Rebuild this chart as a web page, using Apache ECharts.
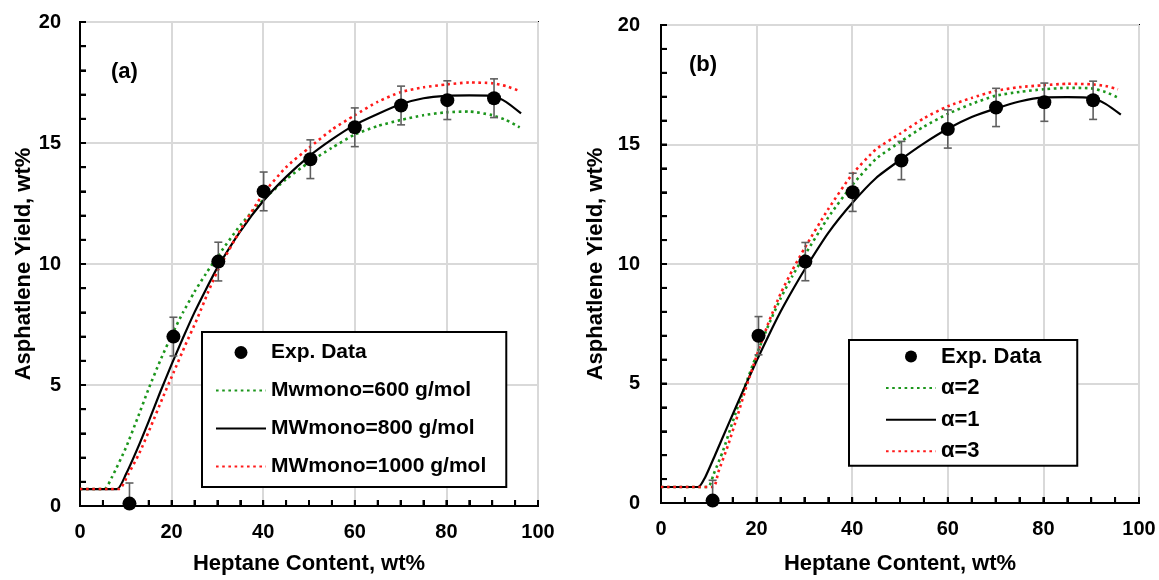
<!DOCTYPE html>
<html>
<head>
<meta charset="utf-8">
<script src="https://cdn.jsdelivr.net/npm/echarts@6/dist/echarts.min.js"></script>
<style>html,body{margin:0;padding:0;background:#fff;}#c{width:1159px;height:580px;}</style>
</head>
<body>
<div id="c"></div>
<script>
// ---- data ----
var expX = [10.8, 20.4, 30.2, 40.1, 50.3, 60.0, 70.1, 80.2, 90.4];
var expY = [0.1, 7.0, 10.1, 13.0, 14.33, 15.65, 16.55, 16.77, 16.85];
var expErr = [0.85, 0.8, 0.8, 0.8, 0.8, 0.8, 0.8, 0.8, 0.8];

// panel (a)
var aX600 = [0, 5.3, 7, 10, 12.5, 15, 17.5, 20, 22.5, 25, 27.5, 30, 35, 40, 45, 50, 55, 60, 65, 70, 75, 80, 85, 90, 93, 96];
var aY600 = [0.7, 0.7, 1.2, 2.4, 3.6, 4.85, 6.0, 7.05, 8.0, 8.85, 9.6, 10.3, 11.6, 12.65, 13.5, 14.2, 14.8, 15.35, 15.7, 15.95, 16.15, 16.27, 16.3, 16.15, 15.95, 15.65];
var aX800 = [0, 8.1, 10, 12.5, 15, 17.5, 20, 22.5, 25, 27.5, 30, 35, 40, 45, 50, 55, 60, 65, 70, 75, 80, 85, 90, 93, 96.3];
var aY800 = [0.7, 0.7, 1.3, 2.35, 3.5, 4.7, 5.85, 6.95, 8.0, 8.95, 9.85, 11.35, 12.6, 13.6, 14.45, 15.15, 15.75, 16.2, 16.6, 16.85, 16.95, 16.97, 16.95, 16.7, 16.22];
var aX1000 = [0, 8.5, 10.5, 13, 15.5, 18, 20.5, 23, 25.5, 28, 30, 35, 40, 45, 50, 55, 60, 65, 70, 75, 80, 85, 90, 93, 96];
var aY1000 = [0.7, 0.7, 1.3, 2.2, 3.3, 4.45, 5.55, 6.65, 7.7, 8.85, 9.7, 11.4, 12.9, 14.0, 14.8, 15.55, 16.15, 16.7, 17.1, 17.3, 17.42, 17.5, 17.47, 17.35, 17.15];

// panel (b)
var bX1 = [0, 7.8, 9.2, 11.3, 14, 17.5, 20, 22.5, 25, 27.5, 30, 35, 40, 45, 50, 55, 60, 65, 70, 75, 80, 85, 90, 93, 96.2];
var bY1 = [0.67, 0.67, 1.06, 2.0, 3.25, 4.85, 5.95, 7.0, 8.0, 8.9, 9.75, 11.3, 12.55, 13.6, 14.35, 15.05, 15.66, 16.15, 16.5, 16.8, 16.97, 16.98, 16.95, 16.7, 16.25];
var bX2 = [0, 9.8, 11, 13, 15, 17.5, 20, 22.5, 25, 27.5, 30, 35, 40, 45, 50, 55, 60, 65, 70, 75, 80, 85, 90, 93, 95.6];
var bY2 = [0.67, 0.67, 1.2, 2.2, 3.4, 4.85, 6.2, 7.45, 8.55, 9.5, 10.35, 11.95, 13.3, 14.4, 15.1, 15.75, 16.28, 16.7, 17.04, 17.2, 17.31, 17.37, 17.35, 17.2, 16.96];
var bX3 = [0, 10.9, 12, 14, 16, 18, 20, 22.5, 25, 27.5, 30, 35, 40, 45, 50, 55, 60, 65, 70, 75, 80, 85, 90, 93, 95.6];
var bY3 = [0.67, 0.67, 1.3, 2.4, 3.65, 4.95, 6.15, 7.55, 8.75, 9.75, 10.65, 12.3, 13.75, 14.8, 15.45, 16.1, 16.6, 16.95, 17.24, 17.4, 17.48, 17.54, 17.52, 17.45, 17.31];

var xTicks = [0, 20, 40, 60, 80, 100];
var yTicks = [0, 5, 10, 15, 20];
var xMinorTicks = [0, 5, 10, 15, 20, 25, 30, 35, 40, 45, 50, 55, 60, 65, 70, 75, 80, 85, 90, 95, 100];
var yMinorTicks = [0, 1, 2, 3, 4, 5, 6, 7, 8, 9, 10, 11, 12, 13, 14, 15, 16, 17, 18, 19, 20];

// ---- helpers ----
function zip(xs, ys) { return xs.map(function (x, i) { return [x, ys[i]]; }); }
var FONT = 'Liberation Sans, Arial, sans-serif';
var GREEN = '#1c961c', RED = '#ff1a1a';

function xAxisCfg(gi, gap) {
  return {
    type: 'value', gridIndex: gi, min: xTicks[0], max: xTicks[xTicks.length - 1], interval: 20,
    name: 'Heptane Content, wt%', nameLocation: 'middle', nameGap: gap,
    nameTextStyle: { fontFamily: FONT, fontWeight: 'bold', fontSize: 22, color: '#000' },
    axisLine: { show: true, lineStyle: { color: '#000', width: 2 } },
    axisTick: { show: true, inside: true, length: 6, lineStyle: { color: '#000', width: 2 } },
    minorTick: { show: true, splitNumber: 4, length: 6, lineStyle: { color: '#000', width: 2 } },
    axisLabel: { show: true, margin: 16, fontFamily: FONT, fontWeight: 'bold', fontSize: 20, color: '#000' },
    splitLine: { show: true, lineStyle: { color: '#d9d9d9', width: 2 } }
  };
}
function yAxisCfg(gi, gap, margin) {
  return {
    type: 'value', gridIndex: gi, min: yTicks[0], max: yTicks[yTicks.length - 1], interval: 5,
    name: 'Asphatlene Yield, wt%', nameLocation: 'middle', nameGap: gap,
    nameTextStyle: { fontFamily: FONT, fontWeight: 'bold', fontSize: 22, color: '#000' },
    axisLine: { show: true, lineStyle: { color: '#000', width: 2 } },
    axisTick: { show: true, inside: true, length: 6, lineStyle: { color: '#000', width: 2 } },
    minorTick: { show: true, splitNumber: 5, length: 6, lineStyle: { color: '#000', width: 2 } },
    axisLabel: { show: true, margin: margin, fontFamily: FONT, fontWeight: 'bold', fontSize: 20, color: '#000' },
    splitLine: { show: true, lineStyle: { color: '#d9d9d9', width: 2 } }
  };
}
function lineSeries(name, gi, xs, ys, color, dotted) {
  return {
    name: name, type: 'line', xAxisIndex: gi, yAxisIndex: gi, data: zip(xs, ys),
    symbol: 'none', showSymbol: false, smooth: 0.2,
    lineStyle: { color: color, width: dotted ? 2.6 : 2.2, type: dotted ? [2.6, 3.6] : 'solid' },
    itemStyle: { color: color }, z: 3
  };
}
function scatterSeries(gi) {
  return {
    name: 'Exp. Data', type: 'scatter', xAxisIndex: gi, yAxisIndex: gi, data: zip(expX, expY),
    symbol: 'circle', symbolSize: 14, itemStyle: { color: '#000', opacity: 1 }, z: 6
  };
}
function errSeries(gi) {
  return {
    name: 'err' + gi, type: 'custom', xAxisIndex: gi, yAxisIndex: gi, clip: true, z: 5,
    encode: { x: 0, y: 1 },
    data: expX.map(function (x, i) { return [x, expY[i], expErr[i]]; }),
    renderItem: function (params, api) {
      var x = api.value(0), y = api.value(1), e = api.value(2);
      var t = api.coord([x, y + e]), b = api.coord([x, y - e]);
      var hw = 4, st = { stroke: '#5f5f5f', lineWidth: 1.6 };
      return { type: 'group', children: [
        { type: 'line', shape: { x1: t[0], y1: t[1], x2: b[0], y2: b[1] }, style: st },
        { type: 'line', shape: { x1: t[0] - hw, y1: t[1], x2: t[0] + hw, y2: t[1] }, style: st },
        { type: 'line', shape: { x1: b[0] - hw, y1: b[1], x2: b[0] + hw, y2: b[1] }, style: st }
      ] };
    }
  };
}
function lineItem(name) { return { name: name, itemStyle: { opacity: 0 } }; }

var chart = echarts.init(document.getElementById('c'), null, { renderer: 'canvas' });
chart.setOption({
  animation: false,
  backgroundColor: '#fff',
  title: [
    { text: '(a)', left: 106, top: 56, textStyle: { fontFamily: FONT, fontWeight: 'bold', fontSize: 22, color: '#000' } },
    { text: '(b)', left: 684, top: 49, textStyle: { fontFamily: FONT, fontWeight: 'bold', fontSize: 22, color: '#000' } }
  ],
  grid: [
    { left: 80, top: 22, width: 458, height: 487, show: true, borderColor: '#000', borderWidth: 2 },
    { left: 661, top: 25, width: 478, height: 484, show: true, borderColor: '#000', borderWidth: 2 }
  ],
  xAxis: [xAxisCfg(0, 47), xAxisCfg(1, 50)],
  yAxis: [yAxisCfg(0, 44, 19), yAxisCfg(1, 54, 21)],
  legend: [
    {
      orient: 'vertical', left: 202, top: 332, padding: [9, 20, 9, 13], itemGap: 15,
      itemWidth: 50, itemHeight: 13, borderColor: '#000', borderWidth: 2, backgroundColor: '#fff',
      textStyle: { fontFamily: FONT, fontWeight: 'bold', fontSize: 21, lineHeight: 23, color: '#000' },
      data: ['Exp. Data', lineItem('Mwmono=600 g/mol'), lineItem('MWmono=800 g/mol'), lineItem('MWmono=1000 g/mol')], selectedMode: false
    },
    {
      orient: 'vertical', left: 849, top: 340, padding: [5, 36, 3, 36], itemGap: 8.6,
      itemWidth: 50, itemHeight: 12, borderColor: '#000', borderWidth: 2, backgroundColor: '#fff',
      textStyle: { fontFamily: FONT, fontWeight: 'bold', fontSize: 22, lineHeight: 23, color: '#000' },
      data: ['Exp. Data', lineItem('α=2'), lineItem('α=1'), lineItem('α=3')], selectedMode: false
    }
  ],
  series: [
    lineSeries('Mwmono=600 g/mol', 0, aX600, aY600, GREEN, true),
    lineSeries('MWmono=800 g/mol', 0, aX800, aY800, '#000', false),
    lineSeries('MWmono=1000 g/mol', 0, aX1000, aY1000, RED, true),
    errSeries(0),
    scatterSeries(0),
    lineSeries('α=2', 1, bX2, bY2, GREEN, true),
    lineSeries('α=1', 1, bX1, bY1, '#000', false),
    lineSeries('α=3', 1, bX3, bY3, RED, true),
    errSeries(1),
    scatterSeries(1)
  ]
});

// inward tick marks, positioned through each grid's own scales
var tickGraphics = [];
[0, 1].forEach(function (gi) {
  xMinorTicks.forEach(function (v) {
    var p = chart.convertToPixel({ gridIndex: gi }, [v, yTicks[0]]);
    tickGraphics.push({ type: 'line', z: 100, silent: true,
      shape: { x1: p[0], y1: p[1], x2: p[0], y2: p[1] - 6 }, style: { stroke: '#000', lineWidth: 2 } });
  });
  yMinorTicks.forEach(function (v) {
    var p = chart.convertToPixel({ gridIndex: gi }, [xTicks[0], v]);
    tickGraphics.push({ type: 'line', z: 100, silent: true,
      shape: { x1: p[0], y1: p[1], x2: p[0] + 6, y2: p[1] }, style: { stroke: '#000', lineWidth: 2 } });
  });
});
chart.setOption({ graphic: tickGraphics });
</script>
</body>
</html>
